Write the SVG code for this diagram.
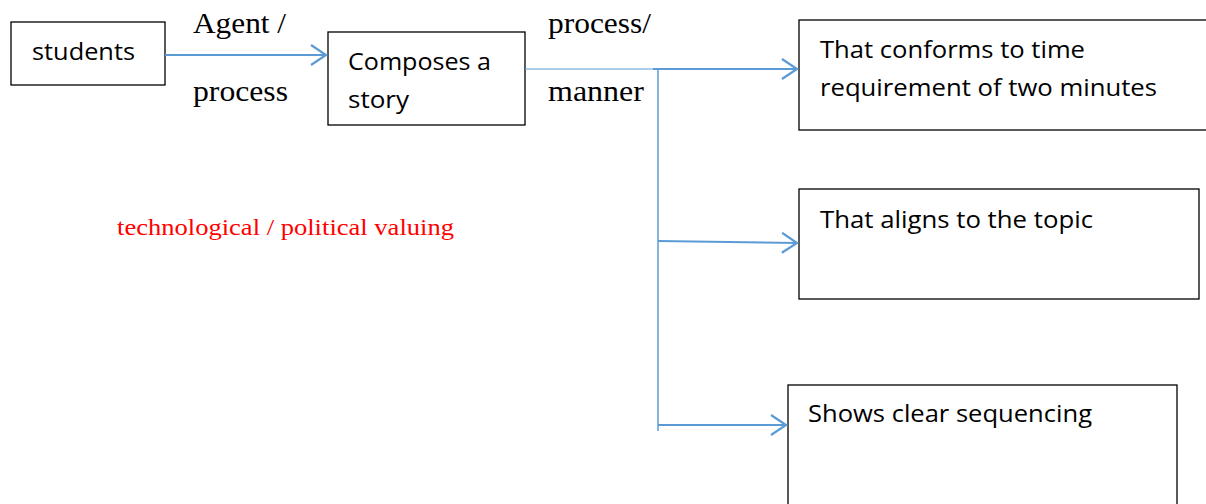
<svg xmlns="http://www.w3.org/2000/svg" width="1206" height="504" viewBox="0 0 1206 504">
<style>
.box{fill:#fff;stroke:#000;stroke-width:1.3}
.t{font-family:"Open Sans","Liberation Sans",sans-serif;font-size:24px;fill:#000}
.s{font-family:"Liberation Serif",serif;font-size:29px;fill:#000}
.c{stroke:#5B9BD5;stroke-width:2;fill:none}
</style>
<defs>
<marker id="arr" markerWidth="20" markerHeight="24" refX="17" refY="11" orient="auto" markerUnits="userSpaceOnUse">
<path d="M2,1 L17,11 L2,21" fill="none" stroke="#5B9BD5" stroke-width="2.2"/>
</marker>
</defs>
<rect width="1206" height="504" fill="#fff"/>
<g id="students"><rect class="box" x="11" y="22" width="154" height="63"/><text class="t" x="32" y="60" textLength="103" lengthAdjust="spacingAndGlyphs">students</text></g>
<g id="composes"><rect class="box" x="328" y="32" width="197" height="93"/><text class="t" x="348" y="70" textLength="143" lengthAdjust="spacingAndGlyphs">Composes a</text><text class="t" x="348" y="108" textLength="61" lengthAdjust="spacingAndGlyphs">story</text></g>
<g id="conforms"><rect class="box" x="799" y="20" width="420" height="110"/><text class="t" x="820" y="58" textLength="265" lengthAdjust="spacingAndGlyphs">That conforms to time</text><text class="t" x="820" y="96" textLength="337" lengthAdjust="spacingAndGlyphs">requirement of two minutes</text></g>
<g id="aligns"><rect class="box" x="799" y="189" width="400" height="110"/><text class="t" x="820" y="228" textLength="273" lengthAdjust="spacingAndGlyphs">That aligns to the topic</text></g>
<g id="sequencing"><rect class="box" x="788" y="385" width="389" height="130"/><text class="t" x="808" y="422" textLength="284" lengthAdjust="spacingAndGlyphs">Shows clear sequencing</text></g>
<g id="labels">
<text class="s" x="193" y="33" textLength="93" lengthAdjust="spacingAndGlyphs">Agent /</text>
<text class="s" x="193" y="101" textLength="95" lengthAdjust="spacingAndGlyphs">process</text>
<text class="s" x="548" y="33" textLength="103" lengthAdjust="spacingAndGlyphs">process/</text>
<text class="s" x="548" y="101" textLength="96" lengthAdjust="spacingAndGlyphs">manner</text>
<text x="117" y="235" font-family="Liberation Serif,serif" font-size="24" fill="#FF0000" textLength="337" lengthAdjust="spacingAndGlyphs">technological / political valuing</text>
</g>
<g id="connectors">
<line class="c" x1="165" y1="55" x2="326" y2="55" marker-end="url(#arr)"/>
<line x1="525" y1="69" x2="655" y2="69" stroke="#5B9BD5" stroke-width="1"/>
<line class="c" x1="653" y1="69" x2="797" y2="69" marker-end="url(#arr)"/>
<line x1="658" y1="69" x2="658" y2="431" stroke="#5B9BD5" stroke-width="1.5"/>
<line class="c" x1="658" y1="241" x2="797" y2="243" marker-end="url(#arr)"/>
<line class="c" x1="658" y1="425" x2="786" y2="425" marker-end="url(#arr)"/>
</g>
</svg>
